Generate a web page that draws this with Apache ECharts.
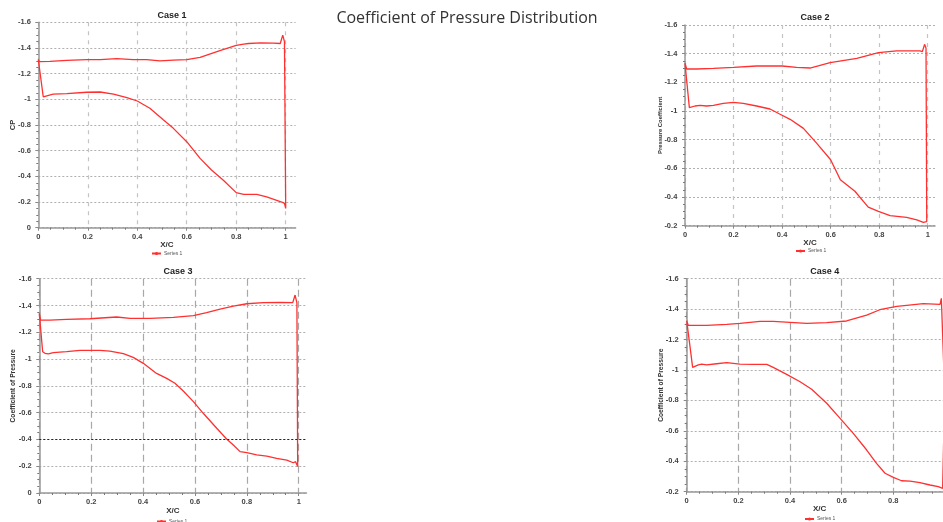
<!DOCTYPE html>
<html lang="en">
<head>
    <meta charset="UTF-8">
    <title>Coefficient of Pressure Distribution</title>
    <script src="https://cdn.jsdelivr.net/npm/echarts@6/dist/echarts.min.js"></script>
    <style>
        html, body { margin: 0; padding: 0; background: #ffffff; }
        #main { width: 943px; height: 522px; }
    </style>
</head>
<body>
<div id="main"></div>

<script type="text/javascript">
    // x/c ticks shared by all panels
    var xTicks = [0, 0.2, 0.4, 0.6, 0.8, 1];

    // Case 1 : trailing edge spike -> upper surface -> leading edge -> lower surface -> trailing edge
    var case1X = [0.988, 0.978, 0.95, 0.9, 0.85, 0.83, 0.8, 0.734, 0.654, 0.6, 0.546, 0.492, 0.438, 0.384, 0.317, 0.25, 0.195, 0.115, 0.047, 0.004, 0,
        0.02, 0.027, 0.06, 0.115, 0.195, 0.25, 0.304, 0.358, 0.4, 0.451, 0.505, 0.546, 0.6, 0.654, 0.7, 0.748, 0.8, 0.83, 0.883, 0.923, 0.984, 0.995, 1.0, 0.995, 0.988];
    var case1Cp = [-1.50, -1.435, -1.437, -1.44, -1.435, -1.43, -1.42, -1.38, -1.327, -1.31, -1.306, -1.30, -1.31, -1.31, -1.317, -1.31, -1.31, -1.304, -1.296, -1.294, -1.31,
        -1.02, -1.03, -1.04, -1.045, -1.055, -1.057, -1.04, -1.013, -0.987, -0.93, -0.84, -0.774, -0.67, -0.54, -0.45, -0.37, -0.273, -0.26, -0.26, -0.24, -0.20, -0.19, -0.15, -1.45, -1.50];

    // Case 2
    var case2X = [0.987, 0.978, 0.968, 0.872, 0.797, 0.708, 0.598, 0.515, 0.46, 0.4, 0.295, 0.2, 0.117, 0.048, 0.007, 0,
        0.018, 0.023, 0.041, 0.062, 0.089, 0.117, 0.158, 0.2, 0.24, 0.295, 0.35, 0.39, 0.433, 0.488, 0.543, 0.6, 0.64, 0.7, 0.755, 0.797, 0.845, 0.913, 0.955, 0.982, 0.996, 0.993, 0.987];
    var case2Cp = [-1.465, -1.414, -1.419, -1.419, -1.407, -1.367, -1.337, -1.30, -1.305, -1.314, -1.314, -1.305, -1.298, -1.293, -1.293, -1.333,
        -1.023, -1.019, -1.035, -1.04, -1.035, -1.04, -1.053, -1.06, -1.053, -1.035, -1.014, -0.979, -0.942, -0.879, -0.774, -0.66, -0.52, -0.44, -0.33, -0.30, -0.27, -0.258, -0.24, -0.223, -0.228, -1.44, -1.465];

    // Case 3
    var case3X = [0.986, 0.977, 0.928, 0.864, 0.8, 0.748, 0.697, 0.645, 0.594, 0.517, 0.427, 0.35, 0.298, 0.195, 0.105, 0.041, 0.005, 0,
        0.013, 0.022, 0.035, 0.054, 0.105, 0.157, 0.234, 0.272, 0.324, 0.362, 0.401, 0.452, 0.491, 0.523, 0.555, 0.594, 0.632, 0.684, 0.722, 0.748, 0.774, 0.8, 0.838, 0.877, 0.915, 0.954, 0.979, 0.988, 0.996, 0.993, 0.986];
    var case3Cp = [-1.478, -1.421, -1.423, -1.421, -1.413, -1.396, -1.373, -1.346, -1.324, -1.311, -1.304, -1.304, -1.314, -1.301, -1.296, -1.291, -1.291, -1.341,
        -1.055, -1.043, -1.038, -1.048, -1.055, -1.065, -1.065, -1.06, -1.04, -1.013, -0.968, -0.893, -0.856, -0.819, -0.761, -0.682, -0.595, -0.483, -0.403, -0.358, -0.309, -0.301, -0.284, -0.276, -0.259, -0.246, -0.226, -0.234, -0.197, -1.42, -1.478];

    // Case 4 (panel is cut at the right edge)
    var case4X = [0.986, 0.981, 0.974, 0.916, 0.852, 0.813, 0.748, 0.697, 0.619, 0.542, 0.465, 0.4, 0.335, 0.284, 0.206, 0.155, 0.077, 0.006, 0,
        0.023, 0.045, 0.058, 0.077, 0.116, 0.155, 0.206, 0.258, 0.31, 0.335, 0.387, 0.439, 0.484, 0.542, 0.594, 0.645, 0.697, 0.735, 0.768, 0.8, 0.832, 0.865, 0.903, 0.942, 0.974, 0.991, 0.998, 0.999, 0.986];
    var case4Cp = [-1.471, -1.431, -1.434, -1.436, -1.425, -1.418, -1.396, -1.361, -1.322, -1.311, -1.306, -1.313, -1.32, -1.32, -1.306, -1.30, -1.293, -1.293, -1.324,
        -1.017, -1.033, -1.039, -1.033, -1.041, -1.048, -1.039, -1.037, -1.037, -1.017, -0.971, -0.923, -0.873, -0.781, -0.682, -0.583, -0.474, -0.386, -0.321, -0.294, -0.272, -0.27, -0.259, -0.244, -0.233, -0.222, -0.21, -0.85, -1.471];

    var caseNames = ['Case 1', 'Case 2', 'Case 3', 'Case 4'];
    var yNames = ['CP', 'Pressure Coefficient', 'Coefficient of Pressure', 'Coefficient of Pressure'];
    var yMins = [-1.6, -1.6, -1.6, -1.6];
    var yMaxs = [0, -0.2, 0, -0.2];
    var xMaxs = [1.04, 1.03, 1.03, 1.03];

    function zip(xs, ys) {
        return xs.map(function (x, i) { return [x, ys[i]]; });
    }
    var allData = [zip(case1X, case1Cp), zip(case2X, case2Cp), zip(case3X, case3Cp), zip(case4X, case4Cp)];

    // panel placement
    var panels = [
        {left: 38.3, top: 22.3, width: 257.3, height: 205.4, yOff: 2.3, yGap: 19, yFont: 7.5, titleTop: 6, legendLeft: 151, legendTop: 251, vDash: [4, 5], vColor: '#c4c4c4'},
        {left: 685, top: 25, width: 250, height: 200.7, yOff: 2.7, yGap: 18.5, yFont: 5.9, titleTop: 8, legendLeft: 795, legendTop: 248.5, vDash: [4, 5], vColor: '#c4c4c4'},
        {left: 39.3, top: 278.7, width: 267.2, height: 214.3, yOff: 2.6, yGap: 20, yFont: 6.7, titleTop: 262, legendLeft: 156, legendTop: 519, vDash: [7, 4], vColor: '#a8a8a8'},
        {left: 686.7, top: 278.7, width: 266, height: 213, yOff: 3, yGap: 19.5, yFont: 6.7, titleTop: 262, legendLeft: 804, legendTop: 516.5, vDash: [7, 4], vColor: '#a8a8a8'}
    ];

    var axisFont = 'Liberation Sans';
    var option = {
        backgroundColor: '#ffffff',
        animation: false,
        title: [{
            text: 'Coefficient of Pressure Distribution',
            left: 462, top: 5, textAlign: 'center',
            textStyle: {fontFamily: 'Open Sans', fontSize: 16, fontWeight: 'normal', color: '#333333'}
        }],
        legend: [],
        grid: [],
        xAxis: [],
        yAxis: [],
        series: []
    };

    panels.forEach(function (p, i) {
        option.title.push({
            text: caseNames[i],
            left: p.left + p.width / 2, top: p.titleTop, textAlign: 'center',
            textStyle: {fontFamily: axisFont, fontSize: 9, fontWeight: 'bold', color: '#222222'}
        });
        option.grid.push({left: p.left, top: p.top, width: p.width, height: p.height, containLabel: false, outerBoundsMode: 'none'});
        option.xAxis.push({
            type: 'value', gridIndex: i, min: 0, max: xMaxs[i], interval: 0.2,
            name: 'X/C', nameLocation: 'middle', nameGap: 13.5, nameMoveOverlap: false,
            nameTextStyle: {fontFamily: axisFont, fontSize: 8, fontWeight: 'bold', color: '#333333'},
            axisLine: {onZero: false, lineStyle: {color: '#999999', width: 1.5}},
            axisTick: {show: true, length: 3, customValues: xTicks, lineStyle: {color: '#888888'}},
            minorTick: {show: true, splitNumber: 4, length: 2, lineStyle: {color: '#777777'}},
            axisLabel: {customValues: xTicks, margin: 5, fontFamily: axisFont, fontSize: 7.5, fontWeight: 'bold', color: '#444444'},
            splitLine: {show: true, lineStyle: {type: p.vDash, color: p.vColor, width: 1.2}}
        });
        option.yAxis.push({
            type: 'value', gridIndex: i, min: yMins[i], max: yMaxs[i], interval: 0.2, inverse: true,
            offset: p.yOff,
            name: yNames[i], nameLocation: 'middle', nameRotate: 90, nameGap: p.yGap, nameMoveOverlap: false,
            nameTextStyle: {fontFamily: axisFont, fontSize: p.yFont, fontWeight: 'bold', color: '#333333'},
            axisLine: {show: true, lineStyle: {color: '#999999', width: 1.5}},
            axisTick: {show: true, length: 3, lineStyle: {color: '#888888'}},
            minorTick: {show: true, splitNumber: 4, length: 2, lineStyle: {color: '#777777'}},
            axisLabel: {margin: 5, fontFamily: axisFont, fontSize: 7.5, fontWeight: 'bold', color: '#444444'},
            splitLine: {show: true, lineStyle: {type: [2, 2], color: '#b0b0b0', width: 1}}
        });
        option.legend.push({
            data: ['Series 1'], left: p.legendLeft, top: p.legendTop, padding: 0,
            itemWidth: 9, itemHeight: 4, itemGap: 2,
            textStyle: {fontFamily: axisFont, fontSize: 5, color: '#555555', padding: [0, 0, 0, -2]}
        });
        var s = {
            name: 'Series 1', type: 'line', xAxisIndex: i, yAxisIndex: i,
            data: allData[i], symbol: 'none', smooth: false,
            lineStyle: {color: '#ff3030', width: 1.3},
            itemStyle: {color: '#ff3030'}
        };
        if (i === 2) {
            s.markLine = {
                silent: true, symbol: 'none', label: {show: false},
                lineStyle: {type: [2, 2], color: '#222222', width: 1},
                data: [{yAxis: -0.4}]
            };
        }
        option.series.push(s);
    });

    var myChart = echarts.init(document.getElementById('main'));
    myChart.setOption(option);
</script>
</body>
</html>
